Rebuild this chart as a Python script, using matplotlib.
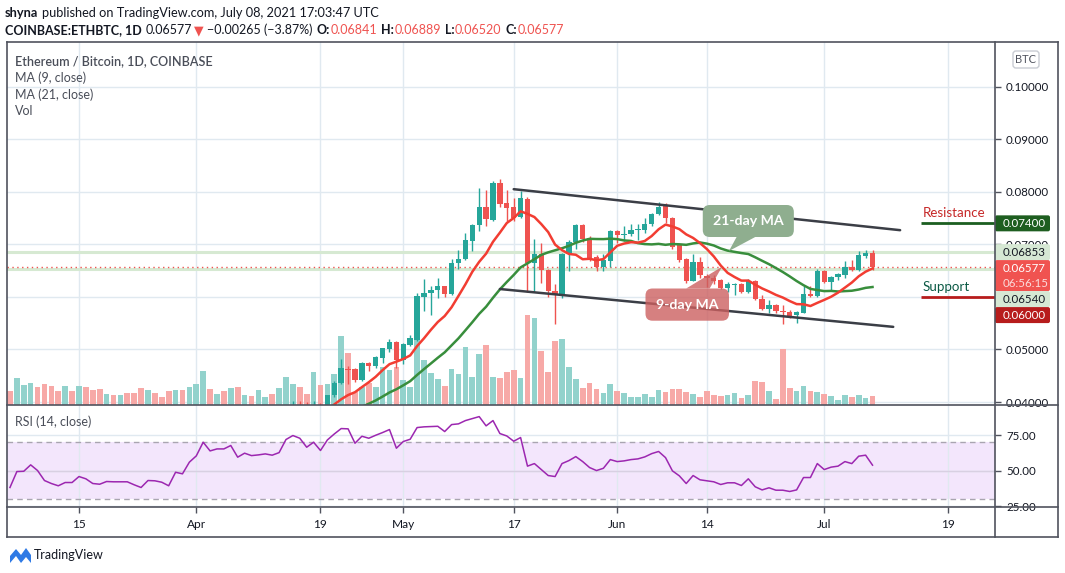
import numpy as np
import pandas as pd
import matplotlib
matplotlib.use('Agg')
import matplotlib.pyplot as plt
import matplotlib.dates as mdates
from matplotlib.patches import FancyBboxPatch, Polygon
from matplotlib.lines import Line2D
from matplotlib.transforms import IdentityTransform, blended_transform_factory

plt.rcParams['font.family'] = ['Lato', 'DejaVu Sans']

# ---------------------------------------------------------------- data
start_date = '2021-03-05'

opens = [0.0322, 0.0318, 0.0325, 0.0327, 0.0331, 0.0327, 0.0322, 0.0320, 0.0318, 0.0320,
         0.0318, 0.0322, 0.0320, 0.0317, 0.0316, 0.0318, 0.0317, 0.0318, 0.0317, 0.0315,
         0.0312, 0.0316, 0.0315, 0.0314, 0.0311, 0.0320, 0.0319, 0.0327, 0.0334, 0.0350,
         0.0344, 0.0350, 0.0348, 0.0356, 0.0346, 0.0352, 0.0350, 0.0353, 0.0355, 0.0353,
         0.0375, 0.0388, 0.0392, 0.0388, 0.0385, 0.0393, 0.0388, 0.0413,
         0.0436, 0.0462, 0.0462, 0.0442, 0.0474, 0.0469, 0.0483, 0.0500, 0.0515, 0.0479,
         0.0508, 0.0518, 0.0600, 0.0607, 0.0613, 0.0620, 0.0605, 0.0664, 0.0672, 0.0706,
         0.0736, 0.0771, 0.0747, 0.0817, 0.0779, 0.0771, 0.0752, 0.0787, 0.0664, 0.0682,
         0.0652, 0.0612, 0.0603, 0.0681, 0.0704, 0.0736, 0.0713, 0.0676, 0.0657, 0.0668,
         0.0726, 0.0718, 0.0719, 0.0727, 0.0728, 0.0738, 0.0757, 0.0774, 0.0750, 0.0698,
         0.0673, 0.0631, 0.0667, 0.0639, 0.0636, 0.0633, 0.0617, 0.0622, 0.0624, 0.0609,
         0.0631, 0.0596, 0.0577, 0.0584, 0.0573, 0.0572, 0.0565, 0.0570, 0.0605, 0.0602,
         0.0650, 0.0628, 0.0638, 0.0641, 0.0657, 0.0651, 0.0677, 0.06841]

highs = [0.0326, 0.0328, 0.0330, 0.0335, 0.0333, 0.0329, 0.0325, 0.0323, 0.0324, 0.0323,
         0.0325, 0.0325, 0.0323, 0.0320, 0.0321, 0.0321, 0.0321, 0.0321, 0.0320, 0.0318,
         0.0319, 0.0319, 0.0318, 0.0317, 0.0323, 0.0324, 0.0330, 0.0338, 0.0355, 0.0355,
         0.0354, 0.0355, 0.0360, 0.0360, 0.0356, 0.0356, 0.0357, 0.0359, 0.0359, 0.0380,
         0.0392, 0.0402, 0.0401, 0.0400, 0.0401, 0.0399, 0.0414, 0.0440,
         0.0481, 0.0469, 0.0465, 0.0477, 0.0476, 0.0488, 0.0503, 0.0519, 0.0517, 0.0512,
         0.0527, 0.0608, 0.0635, 0.0620, 0.0636, 0.0621, 0.0673, 0.0690, 0.0722, 0.0738,
         0.0807, 0.0804, 0.0820, 0.0824, 0.0803, 0.0788, 0.0801, 0.0791, 0.0711, 0.0703,
         0.0653, 0.0624, 0.0684, 0.0709, 0.0738, 0.0738, 0.0715, 0.0679, 0.0681, 0.0728,
         0.0728, 0.0734, 0.0738, 0.0738, 0.0750, 0.0760, 0.0780, 0.0779, 0.0753, 0.0700,
         0.0674, 0.0682, 0.0676, 0.0643, 0.0641, 0.0634, 0.0628, 0.0626, 0.0626, 0.0634,
         0.0633, 0.0603, 0.0595, 0.0586, 0.0584, 0.0575, 0.0573, 0.0620, 0.0620, 0.0653,
         0.0652, 0.0639, 0.0645, 0.0668, 0.0671, 0.0687, 0.0690, 0.06889]

lows = [0.0314, 0.0315, 0.0321, 0.0324, 0.0324, 0.0319, 0.0317, 0.0315, 0.0315, 0.0315,
        0.0315, 0.0317, 0.0314, 0.0313, 0.0313, 0.0314, 0.0314, 0.0314, 0.0312, 0.0309,
        0.0309, 0.0312, 0.0311, 0.0308, 0.0309, 0.0315, 0.0316, 0.0324, 0.0331, 0.0340,
        0.0341, 0.0345, 0.0346, 0.0343, 0.0344, 0.0347, 0.0347, 0.0350, 0.0350, 0.0350,
        0.0372, 0.0384, 0.0385, 0.0381, 0.0383, 0.0384, 0.0385, 0.0410,
        0.0435, 0.0434, 0.0439, 0.0440, 0.0459, 0.0464, 0.0475, 0.0495, 0.0464, 0.0472,
        0.0506, 0.0517, 0.0573, 0.0565, 0.0598, 0.0600, 0.0604, 0.0653, 0.0671, 0.0688,
        0.0726, 0.0734, 0.0744, 0.0772, 0.0744, 0.0744, 0.0750, 0.0609, 0.0609, 0.0627,
        0.0600, 0.0549, 0.0598, 0.0649, 0.0691, 0.0704, 0.0669, 0.0649, 0.0649, 0.0657,
        0.0703, 0.0706, 0.0715, 0.0709, 0.0722, 0.0734, 0.0755, 0.0741, 0.0691, 0.0666,
        0.0627, 0.0630, 0.0636, 0.0619, 0.0624, 0.0615, 0.0609, 0.0603, 0.0608, 0.0607,
        0.0594, 0.0576, 0.0570, 0.0570, 0.0548, 0.0560, 0.0550, 0.0569, 0.0600, 0.0600,
        0.0627, 0.0614, 0.0633, 0.0636, 0.0649, 0.0650, 0.0674, 0.06520]

closes = [0.0318, 0.0325, 0.0327, 0.0331, 0.0327, 0.0322, 0.0320, 0.0318, 0.0320, 0.0318,
          0.0322, 0.0320, 0.0317, 0.0316, 0.0318, 0.0317, 0.0318, 0.0317, 0.0315, 0.0312,
          0.0316, 0.0315, 0.0314, 0.0311, 0.0320, 0.0319, 0.0327, 0.0334, 0.0350, 0.0344,
          0.0350, 0.0348, 0.0356, 0.0346, 0.0352, 0.0350, 0.0353, 0.0355, 0.0353, 0.0375,
          0.0388, 0.0392, 0.0388, 0.0385, 0.0393, 0.0388, 0.0413, 0.0436,
          0.0464, 0.0460, 0.0441, 0.0475, 0.0469, 0.0486, 0.0502, 0.0515, 0.0479, 0.0510,
          0.0521, 0.0601, 0.0608, 0.0614, 0.0620, 0.0605, 0.0665, 0.0673, 0.0708, 0.0736,
          0.0772, 0.0748, 0.0817, 0.0777, 0.0770, 0.0750, 0.0788, 0.0664, 0.0682, 0.0651,
          0.0611, 0.0603, 0.0682, 0.0705, 0.0736, 0.0711, 0.0672, 0.0657, 0.0670, 0.0726,
          0.0717, 0.0720, 0.0728, 0.0729, 0.0739, 0.0757, 0.0772, 0.0750, 0.0695, 0.0671,
          0.0630, 0.0667, 0.0641, 0.0636, 0.0631, 0.0617, 0.0624, 0.0624, 0.0609, 0.0631,
          0.0596, 0.0577, 0.0584, 0.0573, 0.0571, 0.0564, 0.0572, 0.0605, 0.0602, 0.0650,
          0.0628, 0.0638, 0.0643, 0.0657, 0.0651, 0.0679, 0.0684, 0.06577]

volumes = [14, 27, 20, 22, 18, 21, 19, 14, 19, 14,
           19, 18, 15, 16, 11, 10, 10, 12, 12, 17,
           15, 12, 8, 14, 15, 15, 18, 21, 34, 16,
           11, 14, 17, 18, 10, 9, 15, 8, 11, 17,
           28, 21, 18, 11, 33, 20, 21, 31,
           69, 52, 13, 18, 22, 18, 38, 35, 38, 25,
           18, 73, 45, 32, 26, 19, 36, 31, 58, 28,
           51, 60, 28, 27, 33, 35, 27, 90, 87, 54,
           33, 64, 66, 38, 26, 17, 22, 16, 12, 21,
           14, 12, 8, 8, 11, 8, 15, 13, 16, 16,
           13, 11, 8, 14, 10, 9, 10, 12, 7, 10,
           24, 23, 14, 6, 56, 17, 14, 19, 14, 13,
           11, 9, 5, 10, 8, 10, 7, 9]

rsi_values = [38.2, 49.4, 49.6, 54.1, 50.1, 43.1, 41.0, 39.4, 41.7, 41.7,
              45.9, 44.3, 41.0, 40.5, 42.4, 42.2, 42.2, 42.2, 40.1, 38.2,
              43.1, 42.9, 41.9, 39.4, 48.9, 47.8, 56.0, 60.4, 70.0, 63.9,
              65.3, 65.3, 67.7, 59.5, 62.3, 60.6, 61.1, 61.8, 60.9, 62.7,
              71.9, 74.7, 72.8, 66.5, 70.0, 64.2, 71.6, 75.8, 79.6, 79.4,
              69.3, 74.2, 72.8, 74.9, 76.8, 78.9, 65.8, 70.5, 72.1, 80.3,
              80.8, 81.0, 81.2, 77.5, 82.4, 82.9, 85.2, 86.6, 88.0, 81.5,
              85.2, 76.1, 74.4, 70.7, 73.3, 53.2, 55.0, 50.8, 46.6, 45.9,
              55.0, 57.1, 59.9, 56.4, 52.2, 50.1, 51.7, 57.8, 56.4, 56.9,
              57.8, 58.3, 59.7, 62.0, 63.5, 59.2, 49.9, 46.4, 41.0, 46.6,
              43.6, 42.9, 42.2, 40.3, 41.5, 41.5, 39.6, 44.3, 38.7, 36.5,
              38.0, 36.3, 36.3, 35.4, 36.5, 45.2, 45.2, 55.0, 50.8, 52.5,
              53.2, 56.4, 55.0, 60.2, 60.9, 53.9]

tick_dates = ['2021-03-15', '2021-04-01', '2021-04-19', '2021-05-01', '2021-05-17',
              '2021-06-01', '2021-06-14', '2021-07-01', '2021-07-19']
tick_labels = ['15', 'Apr', '19', 'May', '17', 'Jun', '14', 'Jul', '19']
price_ticks = [0.04, 0.05, 0.06, 0.07, 0.08, 0.09, 0.10]
rsi_ticks = [25, 50, 75]

resistance_level = 0.0740
support_level = 0.0600
prev_high_level = 0.06853
prev_low_level = 0.06540
last_price = 0.06577
countdown = '06:56:15'

channel_upper_dates = ['2021-05-17', '2021-07-12']
channel_upper_prices = [0.0805, 0.0727]
channel_lower_dates = ['2021-05-15', '2021-07-11']
channel_lower_prices = [0.0615, 0.0543]

# ---------------------------------------------------------------- style
W, H, DPI = 1065, 573, 100
TEAL, RED = '#26a69a', '#ef5350'
VOL_TEAL, VOL_RED = '#92d2cc', '#f7a9a7'
GRID = '#e0e9f0'
FRAME = '#50535e'
TXT = '#131722'
LEG = '#4a4e59'

PX_L, PX_R, OUTER_R = 7, 995, 1058
Y_TOP, Y_PRICE, Y_RSI, Y_TIME = 42, 405, 507, 537

fig = plt.figure(figsize=(W / DPI, H / DPI), dpi=DPI)
fig.patch.set_facecolor('white')


def rect(x0, y0, x1, y1):
    return [x0 / W, 1 - y1 / H, (x1 - x0) / W, (y1 - y0) / H]


ax = fig.add_axes(rect(PX_L, Y_TOP, PX_R, Y_PRICE))
ax_rsi = fig.add_axes(rect(PX_L, Y_PRICE, PX_R, Y_RSI), sharex=ax)

dates = pd.date_range(start_date, periods=len(closes), freq='D')
x = mdates.date2num(dates)
o, h_, l_, c = map(np.asarray, (opens, highs, lows, closes))
vol = np.asarray(volumes, dtype=float)

base = mdates.date2num(pd.Timestamp('2021-03-15'))
ax.set_xlim(base - 10.43, base + 132.75)
ax.set_ylim(0.03943, 0.10851)
ax_rsi.set_ylim(24.5, 96.15)

for a in (ax, ax_rsi):
    for s in a.spines.values():
        s.set_visible(False)
    a.set_facecolor('white')
    a.set_axisbelow(True)

# grid and ticks
tick_nums = mdates.date2num(pd.to_datetime(tick_dates))
ax.set_xticks(tick_nums)
ax.set_yticks(price_ticks)
ax.grid(True, color=GRID, lw=1)
ax.yaxis.tick_right()
# the 0.06000 tick label sits fully under the support/price tags, as in the reference
hidden_tick_labels = {f'{support_level:.5f}'}
ax.yaxis.set_major_formatter(matplotlib.ticker.FuncFormatter(
    lambda v, p: '' if f'{v:.5f}' in hidden_tick_labels else f'{v:.5f}'))
ax.tick_params(axis='y', right=True, left=False, labelright=True, labelleft=False,
               length=4, width=1, color=FRAME, labelsize=8.3, labelcolor=TXT, pad=4)
ax.tick_params(axis='x', bottom=False, labelbottom=False)

ax_rsi.set_yticks(rsi_ticks)
ax_rsi.grid(True, color=GRID, lw=1)
ax_rsi.yaxis.tick_right()
ax_rsi.yaxis.set_major_formatter(matplotlib.ticker.FuncFormatter(lambda v, p: f'{v:.2f}'))
ax_rsi.tick_params(axis='y', right=True, left=False, labelright=True, labelleft=False,
                   length=4, width=1, color=FRAME, labelsize=8.3, labelcolor=TXT, pad=4)
ax_rsi.set_xticks(tick_nums)
ax_rsi.set_xticklabels(tick_labels)
ax_rsi.tick_params(axis='x', bottom=True, length=4, width=1, color=FRAME,
                   labelsize=8.6, labelcolor=TXT, pad=5)

# volume (drawn against the pane height)
up = c >= o
vtrans = blended_transform_factory(ax.transData, ax.transAxes)
pane_px = Y_PRICE - Y_TOP
ax.bar(x, vol / pane_px, width=0.82, bottom=0, color=np.where(up, VOL_TEAL, VOL_RED),
       transform=vtrans, zorder=1, linewidth=0)

# level lines
ax.axhline(prev_high_level, color='#d6e9d2', lw=2.2, zorder=1.5)
ax.axhline(prev_low_level, color='#d6e9d2', lw=2.2, zorder=1.5)
ax.axhline(last_price, color=RED, lw=1, ls=(0, (1, 2.5)), zorder=1.6)

# candles
ccol = np.where(up, TEAL, RED)
ax.vlines(x, l_, h_, colors=ccol, lw=1, zorder=3)
body_bot = np.minimum(o, c)
body_h = np.maximum(np.abs(c - o), 0.00012)
ax.bar(x, body_h, bottom=body_bot, width=0.78, color=ccol, zorder=4, linewidth=0)

# moving averages
ma9 = pd.Series(c).rolling(9).mean()
ma21 = pd.Series(c).rolling(21).mean()
ax.plot(x, ma21, color='#388e3c', lw=1.8, zorder=5)
ax.plot(x, ma9, color='#f23d32', lw=1.8, zorder=6)

# channel
ax.plot(mdates.date2num(pd.to_datetime(channel_upper_dates)), channel_upper_prices,
        color='#3b3e46', lw=1.8, zorder=7, solid_capstyle='round')
ax.plot(mdates.date2num(pd.to_datetime(channel_lower_dates)), channel_lower_prices,
        color='#3b3e46', lw=1.8, zorder=7, solid_capstyle='round')

# resistance / support markers
level_start = base + 122
ax.hlines(resistance_level, level_start, ax.get_xlim()[1], color='#1b5e20', lw=2, zorder=7)
ax.hlines(support_level, level_start, ax.get_xlim()[1], color='#b71c1c', lw=2, zorder=7)
ax.annotate('Resistance', (level_start + 0.3, resistance_level), xytext=(0, 3),
            textcoords='offset points', color='#c62828', fontsize=9.6, va='bottom', zorder=8)
ax.annotate('Support', (level_start + 0.3, support_level), xytext=(0, 3),
            textcoords='offset points', color='#0b5a45', fontsize=9.6, va='bottom', zorder=8)

# RSI
ax_rsi.axhspan(30, 70, color='#f3e6fc', zorder=0.2, lw=0)
ax_rsi.axhline(70, color='#a9a5b0', lw=1, ls=(0, (4, 3)), zorder=1)
ax_rsi.axhline(30, color='#a9a5b0', lw=1, ls=(0, (4, 3)), zorder=1)
ax_rsi.axhline(50, color='#d8d0e2', lw=1, zorder=1)
ax_rsi.plot(x, rsi_values, color='#9c27b0', lw=1.1, zorder=3)

# ---------------------------------------------------------------- callouts


def callout(text, xd0, xd1, p0, p1, bd0, bd1, tip_d, tip_p, color, alpha, z):
    T = ax.transData
    X0, Y0 = T.transform((base + xd0, p0))
    X1, Y1 = T.transform((base + xd1, p1))
    lo, hi = min(Y0, Y1), max(Y0, Y1)
    bx0 = T.transform((base + bd0, p0))[0]
    bx1 = T.transform((base + bd1, p0))[0]
    tx, ty = T.transform((base + tip_d, tip_p))
    box = FancyBboxPatch((X0, lo), X1 - X0, hi - lo, boxstyle='round,pad=0,rounding_size=7',
                         transform=IdentityTransform(), fc=color, ec='none', alpha=alpha,
                         zorder=z, clip_on=False)
    ax.add_artist(box)
    edge = hi if ty > hi else lo
    tri = Polygon([[bx0, edge], [bx1, edge], [tx, ty]], closed=True, transform=IdentityTransform(),
                  fc=color, ec='none', alpha=alpha, zorder=z, clip_on=False)
    ax.add_artist(tri)
    ax.text((X0 + X1) / 2, (lo + hi) / 2, text, transform=IdentityTransform(), color='white',
            fontsize=10.2, fontweight='bold', ha='center', va='center', zorder=z + 0.5)


callout('21-day MA', 90.4, 103.6, 0.07749, 0.07140, 95.3, 98.0, 94.2, 0.06873, '#8fae8f', 1.0, 9)
callout('9-day MA', 82.1, 94.2, 0.06160, 0.05547, 88.0, 91.4, 93.2, 0.06575, '#cc6060', 0.8, 7.5)

# ---------------------------------------------------------------- frame
def fline(x0, y0, x1, y1, color=FRAME, lw=1.2):
    fig.add_artist(Line2D([x0 / W, x1 / W], [1 - y0 / H, 1 - y1 / H], transform=fig.transFigure,
                          color=color, lw=lw, zorder=20))


fline(PX_L, Y_TOP, OUTER_R, Y_TOP)
fline(PX_L, Y_TIME, OUTER_R, Y_TIME)
fline(PX_L, Y_PRICE, OUTER_R, Y_PRICE)
fline(PX_L, Y_RSI, OUTER_R, Y_RSI)
fline(PX_L, Y_TOP, PX_L, Y_TIME)
fline(PX_R, Y_TOP, PX_R, Y_TIME)
fline(OUTER_R, Y_TOP, OUTER_R, Y_TIME)

# ---------------------------------------------------------------- price labels
labels = [(resistance_level, '#1e5e20', 'white', None),
          (prev_high_level, '#d6e8d4', TXT, None),
          (last_price, '#f05350', 'white', countdown),
          (prev_low_level, '#d6e8d4', TXT, None),
          (support_level, '#b71c1c', 'white', None)]
prev_bottom = -1e9
for val, bg, fg, second in labels:
    yc = H - ax.transData.transform((base, val))[1]
    hgt = 31 if second else 16
    top = max(yc - 8, prev_bottom)
    prev_bottom = top + hgt
    p = FancyBboxPatch((PX_R, H - top - hgt), 55, hgt, boxstyle='round,pad=0,rounding_size=2',
                       transform=IdentityTransform(), fc=bg, ec='none', zorder=15)
    fig.add_artist(p)
    fig.text(1003 / W, 1 - (top + 8) / H, f'{val:.5f}', color=fg, fontsize=8.3, va='center',
             ha='left', zorder=16)
    if second:
        fig.text(1003 / W, 1 - (top + 23) / H, second, color='#fbdcdc', fontsize=8.3,
                 va='center', ha='left', zorder=16)

# BTC unit box
fig.add_artist(FancyBboxPatch((1013, H - 68), 26, 17, boxstyle='round,pad=0,rounding_size=3',
                              transform=IdentityTransform(), fc='white', ec='#c9ccd3', lw=1, zorder=15))
fig.text(1026 / W, 1 - 59.5 / H, 'BTC', color='#50535e', fontsize=8, ha='center', va='center', zorder=16)

# ---------------------------------------------------------------- texts
renderer = fig.canvas.get_renderer()


def runs(x0, y, parts, size):
    xx = x0
    for txt, color, weight, gap in parts:
        t = fig.text(xx / W, 1 - y / H, txt, color=color, fontsize=size, fontweight=weight,
                     va='center', ha='left')
        xx += t.get_window_extent(renderer).width + gap


runs(5, 13, [('shyna', TXT, 'bold', 3.5),
             ('published on TradingView.com, July 08, 2021 17:03:47 UTC', TXT, 'normal', 0)], 9.15)
runs(5, 30, [('COINBASE:ETHBTC, 1D', TXT, 'bold', 4),
             ('0.06577', TXT, 'normal', 2),
             ('▼', RED, 'normal', 3),
             ('−0.00265 (−3.87%)', TXT, 'normal', 4),
             ('O:', TXT, 'bold', 0.5), ('0.06841', RED, 'normal', 4),
             ('H:', TXT, 'bold', 0.5), ('0.06889', RED, 'normal', 4),
             ('L:', TXT, 'bold', 0.5), ('0.06520', RED, 'normal', 4),
             ('C:', TXT, 'bold', 0.5), ('0.06577', RED, 'normal', 0)], 9)

fig.text(15 / W, 1 - 61 / H, 'Ethereum / Bitcoin, 1D, COINBASE', color=LEG, fontsize=9,
         fontweight='semibold', va='center')
for yy, s in [(78, 'MA (9, close)'), (95, 'MA (21, close)'), (111, 'Vol')]:
    fig.text(15 / W, 1 - yy / H, s, color=LEG, fontsize=9, va='center')
fig.text(15 / W, 1 - 422 / H, 'RSI (14, close)', color=LEG, fontsize=9, va='center')

# TradingView footer
logo = Polygon([[10, H - 563], [10, H - 556], [16, H - 549], [21, H - 555], [26, H - 548],
                [31, H - 555], [31, H - 563], [26, H - 557], [21, H - 563], [16, H - 556]],
               closed=True, transform=IdentityTransform(), fc='#2f7ae5', ec='none')
fig.add_artist(logo)
fig.text(34 / W, 1 - 555 / H, 'TradingView', color=TXT, fontsize=9, va='center')

fig.savefig('out.png', dpi=DPI, facecolor='white')
